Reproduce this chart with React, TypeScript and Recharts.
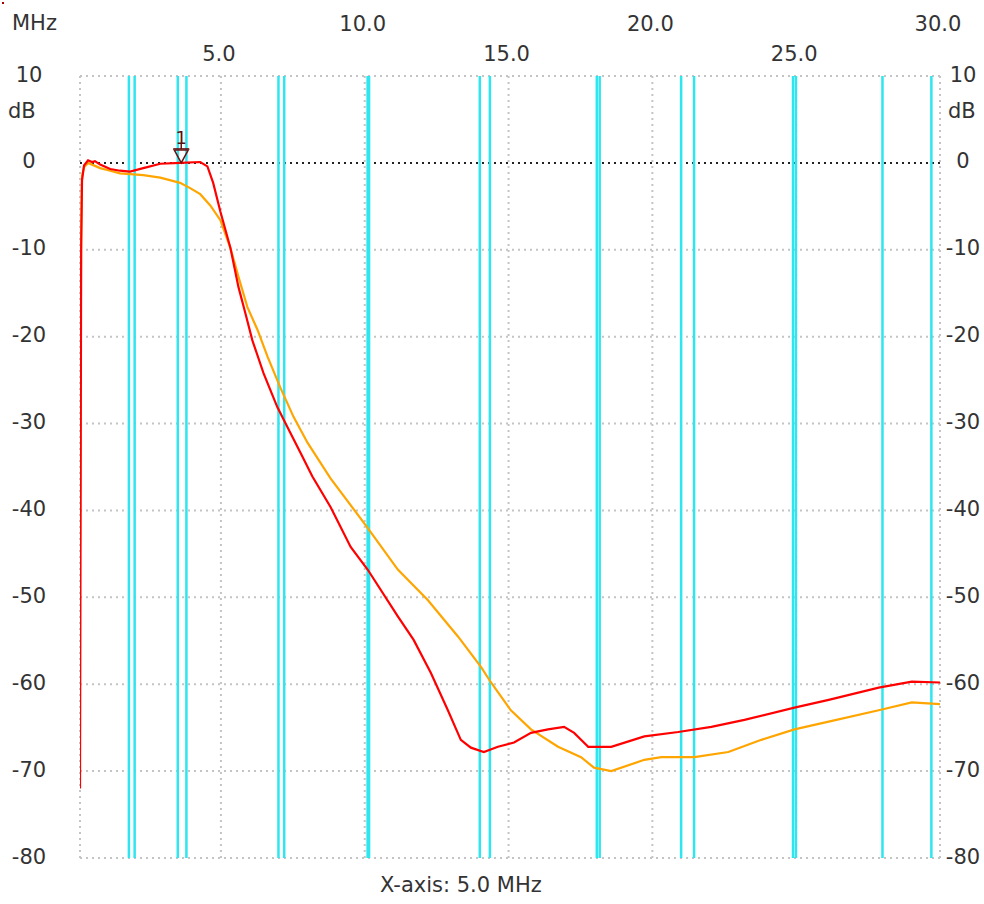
import React from 'react';
import {
  LineChart,
  Line,
  XAxis,
  YAxis,
  CartesianGrid,
  ReferenceLine,
  ReferenceDot,
} from 'recharts';

// trace 1 (red) - frequency in MHz, level in dB
const redFreq = [
  0.1, 0.14, 0.17, 0.24, 0.38, 0.52, 0.62, 0.8, 1.15, 1.49, 1.84, 2.3, 2.89, 3.58, 4.28, 4.53,
  4.73, 4.98, 5.33, 5.61, 5.85, 6.09, 6.48, 6.96, 7.31, 7.77, 8.18, 8.81, 9.51, 10.1, 11.15,
  11.7, 12.3, 12.89, 13.34, 13.69, 14.14, 14.63, 15.19, 15.78, 16.37, 16.93, 17.28, 17.52,
  17.77, 18.57, 19.72, 20.9, 22.05, 23.2, 24.94, 26.13, 27.87, 29.02, 30.0,
];
const redDb = [
  -72, -10, -2, -0.3, 0.3, 0.1, 0.2, -0.2, -0.7, -0.9, -1.0, -0.6, -0.1, 0.0, 0.1, -0.4,
  -2.3, -5.6, -9.8, -14.3, -17.3, -20.4, -24.2, -28.1, -30.4, -33.4, -36.1, -39.6, -44.2, -46.8,
  -52.2, -54.9, -58.7, -63, -66.4, -67.3, -67.8, -67.2, -66.7, -65.6, -65.2, -64.9, -65.6, -66.4,
  -67.2, -67.2, -66, -65.5, -64.9, -64.1, -62.7, -61.8, -60.4, -59.7, -59.8,
];

// trace 2 (orange)
const orangeFreq = [
  0.1, 0.14, 0.17, 0.24, 0.38, 0.52, 0.8, 1.15, 1.49, 1.84, 2.3, 2.89, 3.58, 3.93, 4.28, 4.63,
  4.98, 5.33, 5.61, 5.92, 6.27, 6.62, 7.07, 7.52, 8.01, 8.81, 10.1, 11.15, 12.19, 13.24, 14.04,
  14.39, 15.08, 15.78, 16.72, 17.52, 17.97, 18.57, 19.72, 20.31, 21.46, 22.64, 23.79, 24.94,
  26.13, 27.87, 29.02, 30.0,
];
const orangeDb = [
  -44, -8, -1.5, -0.5, 0, -0.2, -0.6, -0.9, -1.2, -1.3, -1.4, -1.7, -2.3, -2.9, -3.6, -4.9,
  -6.6, -9.8, -13.1, -16.6, -19.2, -22.3, -25.9, -29.2, -32.2, -36.3, -42, -46.8, -50.3, -54.5,
  -58, -59.8, -63, -65.2, -67.2, -68.4, -69.6, -70, -68.7, -68.4, -68.4, -67.8, -66.4, -65.2,
  -64.3, -63, -62.1, -62.3,
];

const xTicks = [5, 10, 15, 20, 25, 30];
const xTickLabels = ['5.0', '10.0', '15.0', '20.0', '25.0', '30.0'];
const yTicks = [10, 0, -10, -20, -30, -40, -50, -60, -70, -80];

// amateur band edges shown as cyan lines
const bandEdges = [
  1.8, 2.0, 3.5, 3.8, 7.0, 7.2, 10.1, 10.15, 14.0, 14.35, 18.068, 18.168, 21.0, 21.45, 24.89,
  24.99, 28.0, 29.7,
];

const markerFreq = 3.62;
const markerDb = 0;

const FONT = "'DejaVu Sans', Verdana, sans-serif";
const TEXT = '#333';

// merge both traces into one table keyed by frequency
const table = (() => {
  const rows = new Map<number, any>();
  redFreq.forEach((f, i) => {
    rows.set(f, { ...(rows.get(f) || { f }), red: redDb[i] });
  });
  orangeFreq.forEach((f, i) => {
    rows.set(f, { ...(rows.get(f) || { f }), orange: orangeDb[i] });
  });
  return [...rows.values()].sort((a, b) => a.f - b.f);
})();

const XTick = ({ x, payload }: any) => {
  const idx = xTicks.indexOf(payload.value);
  const lower = idx % 2 === 0;
  return (
    <text
      x={x - 2}
      y={lower ? 61 : 31}
      textAnchor="middle"
      fontFamily={FONT}
      fontSize={21}
      fill={TEXT}
    >
      {xTickLabels[idx]}
    </text>
  );
};

const YTickLeft = ({ y, payload }: any) => (
  <text x={29} y={y + 5.5} textAnchor="middle" fontFamily={FONT} fontSize={21} fill={TEXT}>
    {payload.value}
  </text>
);

const YTickRight = ({ y, payload }: any) => (
  <text x={963} y={y + 5.5} textAnchor="middle" fontFamily={FONT} fontSize={21} fill={TEXT}>
    {payload.value}
  </text>
);

const Marker = ({ cx, cy }: any) => (
  <g>
    <text
      x={cx}
      y={cy - 19}
      textAnchor="middle"
      fontFamily={FONT}
      fontSize={18}
      fill="#5a1010"
    >
      1
    </text>
    <line x1={cx} y1={cy - 19} x2={cx} y2={cy - 14} stroke="#6b1414" strokeWidth={1.5} />
    <line x1={cx - 8} y1={cy - 14} x2={cx + 8} y2={cy - 14} stroke="#6b1414" strokeWidth={1.5} />
    <polygon
      points={`${cx - 7},${cy - 13} ${cx + 7},${cy - 13} ${cx},${cy}`}
      fill="none"
      stroke="#6b1414"
      strokeWidth={1.5}
    />
  </g>
);

export default function App() {
  return (
    <div style={{ position: 'absolute', left: 0, top: 0, width: 984, height: 904, background: '#fff' }}>
      <div style={{ position: 'absolute', left: 2, top: 2, width: 2, height: 2, background: '#a00' }} />
      <LineChart
        width={984}
        height={904}
        data={table}
        margin={{ top: 46, right: 0, bottom: 46, left: 0 }}
      >
        <CartesianGrid
          xAxisId="x"
          yAxisId="l"
          stroke="#c4c4c4"
          strokeWidth={2}
          strokeDasharray="2 4"
        />
        <XAxis
          xAxisId="x"
          dataKey="f"
          type="number"
          orientation="top"
          domain={[0.1, 30]}
          ticks={xTicks}
          height={30}
          axisLine={false}
          tickLine={false}
          tick={<XTick />}
          interval={0}
          allowDataOverflow
        />
        <YAxis
          yAxisId="l"
          domain={[-80, 10]}
          ticks={yTicks}
          width={80}
          axisLine={false}
          tickLine={false}
          tick={<YTickLeft />}
          interval={0}
          allowDataOverflow
        />
        <YAxis
          yAxisId="r"
          orientation="right"
          domain={[-80, 10]}
          ticks={yTicks}
          width={44}
          axisLine={false}
          tickLine={false}
          tick={<YTickRight />}
          interval={0}
          allowDataOverflow
        />
        <ReferenceLine xAxisId="x" yAxisId="l" x={0.1} stroke="#c4c4c4" strokeWidth={2} strokeDasharray="2 4" />
        <ReferenceLine xAxisId="x" yAxisId="l" y={0} stroke="#222" strokeWidth={2} strokeDasharray="2 4" />
        {bandEdges.map((f) => (
          <ReferenceLine key={f} xAxisId="x" yAxisId="l" x={f} stroke="#2ee6f0" strokeWidth={2.5} />
        ))}
        <Line
          xAxisId="x"
          yAxisId="l"
          dataKey="orange"
          stroke="#ffa500"
          strokeWidth={2.2}
          dot={false}
          connectNulls
          isAnimationActive={false}
        />
        <Line
          xAxisId="x"
          yAxisId="l"
          dataKey="red"
          stroke="#ff0000"
          strokeWidth={2.2}
          dot={false}
          connectNulls
          isAnimationActive={false}
        />
        <ReferenceDot
          xAxisId="x"
          yAxisId="l"
          x={markerFreq}
          y={markerDb}
          r={0}
          shape={<Marker />}
        />
      </LineChart>
      <div style={{ position: 'absolute', left: 12, top: 10, fontFamily: FONT, fontSize: 21, color: TEXT, lineHeight: '26px' }}>MHz</div>
      <div style={{ position: 'absolute', left: 8, top: 98, fontFamily: FONT, fontSize: 21, color: TEXT, lineHeight: '26px' }}>dB</div>
      <div style={{ position: 'absolute', left: 948, top: 98, fontFamily: FONT, fontSize: 21, color: TEXT, lineHeight: '26px' }}>dB</div>
      <div style={{ position: 'absolute', left: 380, top: 872, fontFamily: FONT, fontSize: 21, color: TEXT, lineHeight: '26px' }}>X-axis: 5.0 MHz</div>
    </div>
  );
}
